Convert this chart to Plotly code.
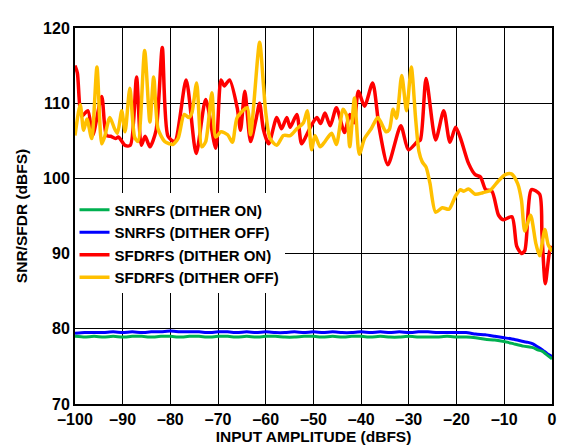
import plotly.graph_objects as go

# ---- data ----
red_x = [-100, -99.5, -98.6, -97.3, -96.3, -94.4, -93.4, -92.5, -91.5, -90.9, -89.5, -88.4,
         -87.1, -86.1, -85.3, -84.3, -83.0, -81.7, -80.5, -79.1, -76.7, -74.6, -72.6, -70.5,
         -69.4, -68.7, -67.6, -66.0, -65.3, -64.4, -63.2, -62.0, -61.3, -60.5, -59.4, -57.7,
         -56.7, -55.6, -54.9, -53.5, -52.5, -51.5, -50.5, -49.3, -48.5, -47.6, -46.5, -45.2,
         -43.5, -42.4, -41.5, -40.6, -39.3, -37.6, -36.2, -34.4, -31.7, -30.1, -28.2, -27.6,
         -26.4, -24.4, -22.7, -21.4, -20.2, -19.2, -17.5, -16.1, -15.0, -13.9, -12.6, -11.2,
         -10.2, -8.4, -7.4, -6.4, -5.7, -4.3, -2.6, -2.1, -1.4, -0.5, 0]
red_y = [115.0, 114.0, 108.3, 109.0, 105.7, 110.9, 105.7, 105.6, 105.3, 105.5, 104.4, 104.4,
         113.5, 104.4, 105.6, 104.2, 106.4, 117.4, 105.6, 104.9, 113.1, 103.3, 110.5, 104.0,
         113.1, 112.3, 113.1, 109.4, 106.4, 111.6, 104.9, 108.0, 110.0, 106.5, 104.6, 108.1,
         106.6, 108.1, 106.8, 108.5, 104.6, 105.7, 107.0, 108.1, 107.3, 108.7, 107.0, 109.4,
         106.1, 108.5, 107.4, 111.6, 109.6, 112.7, 106.6, 101.8, 107.0, 103.8, 104.9, 105.1,
         113.3, 105.1, 109.0, 104.8, 106.8, 105.4, 102.0, 100.5, 100.2, 98.5, 98.3, 95.1,
         94.5, 94.9, 91.0, 90.0, 90.4, 98.5, 97.9, 92.6, 86.0, 90.3, 91.0]

yel_x = [-100, -98.9, -98.2, -97.5, -96.5, -95.4, -94.4, -93.8, -92.7, -91.7, -91.1, -90.2,
         -89.5, -88.5, -87.5, -86.8, -85.4, -84.3, -83.5, -82.6, -81.2, -80.2, -79.5, -78.4,
         -77.1, -76.1, -75.5, -74.5, -73.4, -72.6, -71.3, -70.5, -69.4, -68.0, -67.0, -66.0,
         -63.9, -63.2, -61.3, -60.5, -60.0, -59.1, -57.7, -56.3, -54.9, -53.5, -52.1, -51.3,
         -50.4, -49.7, -48.6, -47.6, -46.2, -45.2, -43.8, -43.0, -42.4, -41.4, -40.4, -39.3,
         -37.9, -36.5, -34.8, -34.1, -33.3, -32.6, -31.5, -30.5, -29.5, -28.6, -27.9, -27.2,
         -26.4, -25.6, -24.4, -23.0, -21.6, -20.2, -19.2, -18.5, -17.5, -16.1, -14.5, -13.0,
         -11.2, -9.8, -8.5, -7.2, -6.4, -5.7, -4.5, -3.4, -2.6, -1.5, -0.8, 0]
yel_y = [105.7, 109.8, 106.4, 107.9, 105.3, 114.8, 104.6, 105.5, 108.1, 106.6, 106.0, 109.0,
         106.2, 112.0, 105.5, 104.9, 117.0, 107.5, 113.5, 106.6, 104.9, 104.6, 104.5, 105.3,
         108.5, 108.1, 108.7, 112.7, 104.2, 104.9, 111.4, 105.5, 106.2, 105.8, 104.8, 108.1,
         109.4, 105.8, 118.1, 112.5, 108.7, 105.3, 104.4, 105.7, 105.7, 106.6, 107.4, 109.0,
         103.8, 105.7, 104.2, 104.9, 106.0, 104.5, 109.2, 108.3, 104.2, 110.7, 103.2, 105.3,
         106.6, 108.1, 106.2, 106.5, 109.2, 108.0, 113.7, 109.0, 114.8, 108.0, 103.6, 102.2,
         101.5, 99.4, 95.5, 96.1, 95.9, 97.7, 98.5, 98.3, 98.6, 97.9, 98.1, 98.4,
         99.7, 100.5, 100.6, 99.3, 97.1, 93.0, 95.1, 91.4, 89.7, 93.2, 91.2, 90.3]

snr_x = [-100, -98, -96, -94, -92, -90, -88, -86, -84, -82, -80, -78, -76, -74, -72, -70,
         -68, -66, -64, -62, -60, -58, -56, -54, -52, -50, -48, -46, -44, -42, -40, -38,
         -36, -34, -32, -30, -28, -26, -24, -22, -20, -18, -16, -14, -12, -10, -8, -6,
         -5, -4, -3, -2, -1, 0]
blue_y = [79.4, 79.5, 79.5, 79.5, 79.6, 79.5, 79.6, 79.5, 79.6, 79.6, 79.7, 79.6, 79.6, 79.6,
          79.5, 79.6, 79.6, 79.5, 79.6, 79.5, 79.6, 79.5, 79.5, 79.6, 79.5, 79.6, 79.5, 79.6,
          79.5, 79.5, 79.6, 79.5, 79.6, 79.5, 79.6, 79.5, 79.6, 79.6, 79.5, 79.5, 79.5, 79.5,
          79.3, 79.2, 79.0, 78.8, 78.6, 78.3, 78.2, 78.0, 77.6, 77.2, 76.7, 76.3]
green_y = [79.0, 78.9, 79.0, 78.9, 79.0, 78.9, 79.0, 79.0, 78.9, 79.0, 79.0, 78.9, 79.0, 79.0,
           78.9, 79.0, 79.0, 78.9, 79.0, 78.9, 79.0, 79.0, 78.9, 78.9, 79.0, 79.0, 78.9, 79.0,
           78.9, 79.0, 79.0, 78.9, 79.0, 78.9, 78.9, 79.0, 78.9, 78.9, 78.9, 79.0, 78.9, 78.9,
           78.8, 78.6, 78.5, 78.3, 78.0, 77.7, 77.6, 77.5, 77.2, 77.0, 76.5, 76.0]

x_ticks = [-100, -90, -80, -70, -60, -50, -40, -30, -20, -10, 0]
x_tick_labels = ["–100", "–90", "–80", "–70", "–60", "–50", "–40", "–30", "–20", "–10", "0"]
y_ticks = [70, 80, 90, 100, 110, 120]

names = ["SNRFS (DITHER ON)", "SNRFS (DITHER OFF)", "SFDRFS (DITHER ON)", "SFDRFS (DITHER OFF)"]
colors = ["#00B050", "#0000FF", "#FF0000", "#FFC000"]
figure_code = "08124-068"

fig = go.Figure()
fig.add_trace(go.Scatter(x=red_x, y=red_y, name=names[2], mode="lines", legendrank=3,
                         line=dict(color=colors[2], width=3.5, shape="spline", smoothing=0.7)))
fig.add_trace(go.Scatter(x=yel_x, y=yel_y, name=names[3], mode="lines", legendrank=4,
                         line=dict(color=colors[3], width=3.5, shape="spline", smoothing=0.7)))
fig.add_trace(go.Scatter(x=snr_x, y=blue_y, name=names[1], mode="lines", legendrank=2,
                         line=dict(color=colors[1], width=3, shape="spline", smoothing=0.5)))
fig.add_trace(go.Scatter(x=snr_x, y=green_y, name=names[0], mode="lines", legendrank=1,
                         line=dict(color=colors[0], width=3, shape="spline", smoothing=0.5)))

font_family = "Liberation Sans, Arial, sans-serif"
axis_common = dict(showgrid=True, gridcolor="black", gridwidth=1.3, showline=True,
                   linecolor="black", linewidth=2, mirror=True, zeroline=False, ticks="",
                   tickfont=dict(family=font_family, size=16, color="black", weight="bold"))

fig.update_xaxes(range=[-100, 0], tickvals=x_ticks, ticktext=x_tick_labels,
                 title=dict(text="INPUT AMPLITUDE (dBFS)", standoff=4,
                            font=dict(family=font_family, size=15.5, color="black", weight="bold")),
                 **axis_common)
fig.update_yaxes(range=[70, 120], tickvals=y_ticks,
                 title=dict(text="SNR/SFDR (dBFS)", standoff=12,
                            font=dict(family=font_family, size=15.5, color="black", weight="bold")),
                 **axis_common)

fig.update_layout(
    width=566, height=448,
    margin=dict(l=63, r=22, t=12, b=52),
    plot_bgcolor="white", paper_bgcolor="white",
    legend=dict(x=-0.001, y=0.56, xanchor="left", yanchor="top", bgcolor="white",
                font=dict(family=font_family, size=15, color="black", weight="bold"),
                tracegroupgap=0, itemwidth=30),
    annotations=[dict(text=figure_code, xref="paper", yref="paper",
                      x=1.0, y=0.0, xshift=9, yshift=-24,
                      xanchor="center", yanchor="middle", showarrow=False,
                      textangle=-90, font=dict(family="Arial, Liberation Sans, sans-serif",
                                               size=8, color="#000000"))],
)

fig.write_html("out.html")
